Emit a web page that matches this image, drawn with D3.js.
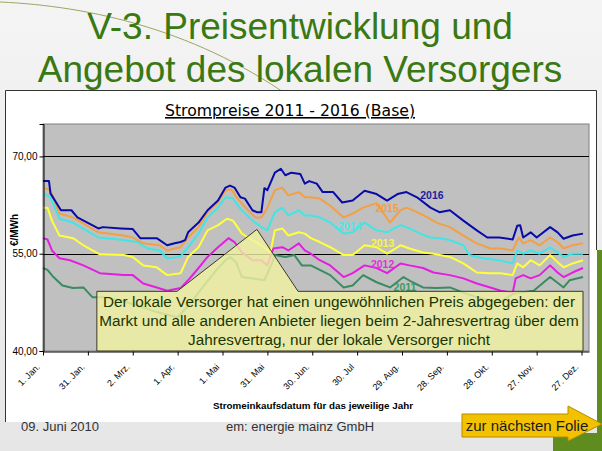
<!DOCTYPE html>
<html><head><meta charset="utf-8">
<script src="https://cdn.jsdelivr.net/npm/d3@7"></script>
<style>html,body{margin:0;padding:0;background:#ececec;overflow:hidden}</style>
</head><body><svg id="c" width="602" height="451"></svg>
<script>
// ---------- DATA ----------
const seriesNames = ["2011", "2012", "2013", "2014", "2015", "2016"];
const seriesColors = ["#3a8a62", "#e41ee0", "#ffff3c", "#40e6e6", "#f2a046", "#0a0aa8"];
const labelColors = ["#3f9a5e", "#e030d8", "#f6f640", "#48e8e8", "#f0a040", "#1c1ca0"];

const s2011 = [[0,52.8],[3,52.5],[7,51.4],[13,50.1],[20,49.7],[27,49.8],[33,48.3],[40,48.3],[52,47.8],[67,46.7],[76,46.0],[90,45.2],[96,46.7],[105,49.3],[116,52.5],[122,54.0],[125,54.5],[129,53.7],[133,51.4],[139,51.2],[148,50.9],[153,53.5],[155,54.8],[162,54.5],[168,54.8],[173,53.2],[179,53.2],[185,52.5],[192,51.7],[201,49.8],[207,50.1],[214,51.7],[223,50.6],[232,49.8],[241,51.4],[247,50.6],[254,49.8],[263,49.7],[272,49.8],[281,49.0],[290,48.3],[299,47.8],[306,47.6],[314,48.8],[319,49.0],[328,49.3],[339,51.4],[348,49.8],[352,50.9],[361,51.4]];
const s2012 = [[0,57.4],[3,57.2],[6,55.5],[11,54.3],[18,54.0],[27,53.2],[38,52.0],[54,51.7],[60,51.7],[67,50.4],[76,49.8],[83,49.3],[92,49.7],[97,50.9],[104,52.8],[110,54.5],[117,56.0],[124,57.4],[128,56.8],[133,55.2],[140,54.0],[146,54.0],[150,53.2],[154,55.8],[160,56.0],[164,55.5],[171,56.6],[175,55.5],[179,55.0],[185,54.0],[192,53.2],[201,51.4],[207,52.0],[215,53.2],[223,52.8],[230,52.0],[239,53.5],[245,53.2],[254,52.8],[261,52.1],[272,51.7],[281,51.2],[290,50.4],[299,49.8],[306,49.3],[314,49.0],[316,51.2],[321,51.7],[326,51.2],[332,51.7],[339,53.2],[344,52.1],[348,51.4],[354,52.1],[361,52.8]];
const s2013 = [[0,62.1],[3,62.1],[6,60.1],[11,57.8],[20,57.4],[27,56.3],[38,54.9],[54,54.8],[60,54.5],[67,53.2],[76,52.9],[83,51.7],[92,52.0],[97,54.5],[104,56.0],[110,58.6],[117,59.4],[123,60.4],[127,60.1],[133,58.1],[140,57.1],[146,56.3],[152,55.2],[155,58.6],[160,58.9],[164,57.8],[171,58.3],[175,58.1],[179,57.4],[185,56.8],[192,56.0],[201,54.8],[207,54.8],[215,56.3],[223,56.0],[230,55.0],[239,56.3],[245,55.8],[254,55.2],[261,55.0],[272,54.5],[281,53.5],[290,52.1],[299,52.0],[306,52.0],[314,51.7],[317,53.5],[321,52.9],[326,54.0],[332,53.2],[339,54.8],[344,53.7],[348,52.9],[354,53.5],[361,54.0]];
const s2014 = [[0,64.3],[5,63.7],[11,60.4],[20,59.8],[37,57.5],[54,57.1],[63,56.8],[70,55.8],[78,55.5],[83,54.3],[88,54.4],[92,54.6],[97,56.0],[104,58.1],[110,60.6],[117,62.1],[122,63.7],[127,63.5],[132,61.9],[140,60.1],[146,59.1],[150,58.6],[155,61.4],[160,62.1],[164,60.9],[171,61.7],[175,60.9],[179,60.9],[185,60.6],[192,59.8],[201,58.1],[207,58.3],[215,59.8],[223,58.6],[230,58.3],[239,59.4],[245,58.9],[252,58.1],[259,57.5],[265,57.4],[272,57.1],[281,56.3],[285,54.8],[294,54.3],[305,54.0],[314,53.5],[317,55.5],[321,55.0],[326,55.5],[332,55.0],[339,56.0],[344,55.2],[348,54.5],[354,55.0],[361,55.0]];
const s2015 = [[0,65.2],[5,64.8],[11,61.2],[20,60.6],[37,58.3],[54,57.8],[60,57.5],[67,56.6],[78,56.3],[83,55.5],[88,55.8],[92,56.0],[97,57.5],[104,59.1],[110,61.4],[117,62.9],[122,64.8],[126,64.9],[130,63.5],[137,61.7],[142,60.6],[146,60.6],[150,62.1],[155,64.8],[160,65.2],[164,64.0],[171,64.5],[175,63.7],[179,63.7],[185,63.5],[192,62.4],[201,60.6],[207,61.2],[214,62.1],[223,62.8],[232,59.8],[239,61.7],[243,62.1],[250,61.4],[257,60.6],[263,59.8],[272,59.1],[281,57.8],[290,56.6],[299,55.8],[306,55.8],[314,55.5],[318,57.5],[321,56.6],[326,57.1],[332,56.3],[339,57.5],[344,56.8],[348,55.8],[354,56.3],[361,56.6]];
const s2016 = [[0,66.2],[4,66.2],[5,64.3],[12,61.7],[19,61.7],[23,60.6],[37,58.9],[40,59.1],[52,58.9],[60,58.8],[65,57.4],[76,57.4],[83,56.3],[88,56.6],[92,56.8],[95,57.1],[97,58.3],[104,59.8],[110,61.7],[117,63.2],[122,65.2],[125,65.5],[128,65.2],[132,63.7],[135,63.5],[140,61.7],[143,61.4],[146,61.4],[148,65.1],[150,64.8],[155,67.5],[159,68.1],[162,67.1],[166,67.5],[172,67.3],[175,65.8],[178,66.2],[183,65.8],[187,64.5],[194,64.5],[200,62.9],[207,63.2],[215,64.7],[223,64.2],[230,63.2],[237,64.2],[243,64.5],[250,63.7],[259,62.1],[265,61.4],[272,61.7],[281,60.1],[290,58.6],[297,57.5],[305,57.5],[314,57.2],[317,59.3],[319,59.4],[321,57.5],[326,58.3],[330,57.5],[339,59.1],[344,58.3],[348,57.3],[354,57.8],[361,58.1]];
const seriesData = [s2011, s2012, s2013, s2014, s2015, s2016];

// label anchor [day, value] per series
const labelPos = [[242,49.8],[227,53.4],[227,56.6],[205,59.2],[230,62.0],[260,64.0]];

const tickDays = [0,30,60,90,120,150,180,210,240,270,300,330,360];
const tickLabels = ["1. Jan.","31. Jan.","2. Mrz.","1. Apr.","1. Mai","31. Mai","30. Jun.","30. Jul","29. Aug.","28. Sep.","28. Okt.","27. Nov.","27. Dez."];
const yTicks = [40, 55, 70];
const yGrid = [55, 70];

const slideTitle = ["V-3. Preisentwicklung und", "Angebot des lokalen Versorgers"];
const chartTitle = "Strompreise 2011 - 2016 (Base)";
const yTitle = "€/MWh";
const xTitle = "Stromeinkaufsdatum für das jeweilige Jahr";
const calloutLines = ["Der lokale Versorger hat einen ungewöhnlichen Preis abgegeben: der",
  "Markt und alle anderen Anbieter liegen beim 2-Jahresvertrag über dem",
  "Jahresvertrag, nur der lokale Versorger nicht"];
// callout geometry in data units: box [day0, day1, valueTop], notch [dayL, apexDay, apexValue, dayR]
const calloutBox = [36, 361, 49.2];
const calloutNotch = [89.6, 143, 58.75, 170.5];
const footerDate = "09. Juni 2010";
const footerCompany = "em: energie mainz GmbH";
const nextLabel = "zur nächsten Folie";

// ---------- DRAW ----------
const svg = d3.select("#c");
const defs = svg.append("defs");
const bg = defs.append("linearGradient").attr("id","bg").attr("x1",0).attr("y1",0).attr("x2",0).attr("y2",1);
bg.append("stop").attr("offset","0%").attr("stop-color","#f4f4f4");
bg.append("stop").attr("offset","100%").attr("stop-color","#e6e6e6");
svg.append("rect").attr("width",602).attr("height",451).attr("fill","url(#bg)");

// decorative thin curve
svg.append("path").attr("d","M0,2 C90,6 200,30 300,104").attr("fill","none")
  .attr("stroke","#9aa860").attr("stroke-width",1);

// green right bar and corner block
svg.append("rect").attr("x",597).attr("y",250).attr("width",5).attr("height",201).attr("fill","#5e8c1e");
svg.append("rect").attr("x",553).attr("y",433).attr("width",49).attr("height",18).attr("fill","#5e8c1e");

// slide title
svg.selectAll("text.st").data(slideTitle).join("text").attr("class","st")
  .attr("x",300).attr("y",(d,i)=>39+i*43).attr("text-anchor","middle")
  .attr("font-family","Liberation Sans, Arial, sans-serif").attr("font-size",37)
  .attr("fill","#3a7812").text(d=>d);

// panel
svg.append("rect").attr("x",5).attr("y",90).attr("width",592).attr("height",332).attr("fill","#ffffff");
svg.append("path").attr("d","M5.5,422 V90.5 H596.5 V250").attr("fill","none").attr("stroke","#333").attr("stroke-width",1);

// chart title
svg.append("text").attr("x",290).attr("y",116).attr("text-anchor","middle")
  .attr("font-family","DejaVu Sans, Tahoma, sans-serif").attr("font-size",16)
  .attr("textLength",250).attr("lengthAdjust","spacingAndGlyphs")
  .attr("text-decoration","underline").attr("fill","#000").text(chartTitle);

const x = d3.scaleLinear().domain([0,365]).range([43,589]);
const y = d3.scaleLinear().domain([40,75]).range([351,124]);

// plot area
svg.append("rect").attr("x",x(0)).attr("y",y(75)).attr("width",x(365)-x(0)).attr("height",y(40)-y(75))
  .attr("fill","#c0c0c0").attr("stroke","#808080").attr("stroke-width",1);

// gridlines
svg.append("g").selectAll("line").data(yGrid).join("line")
  .attr("x1",x(0)).attr("x2",x(365)).attr("y1",d=>Math.round(y(d))+0.5).attr("y2",d=>Math.round(y(d))+0.5)
  .attr("stroke","#000").attr("stroke-width",1);

// series
const line = d3.line().x(d=>x(d[0])).y(d=>y(d[1]));
svg.append("g").selectAll("path").data(seriesData).join("path")
  .attr("d",line).attr("fill","none").attr("stroke",(d,i)=>seriesColors[i])
  .attr("stroke-width",2).attr("stroke-linejoin","round");

// series labels
svg.append("g").selectAll("text").data(seriesNames).join("text")
  .attr("x",(d,i)=>x(labelPos[i][0])).attr("y",(d,i)=>y(labelPos[i][1])).attr("dy","0.35em")
  .attr("text-anchor","middle").attr("font-family","Liberation Sans, Arial, sans-serif")
  .attr("font-weight","bold").attr("font-size",10.5).attr("fill",(d,i)=>labelColors[i]).text(d=>d);

// axes
const yAxis = d3.axisLeft(y).tickValues(yTicks).tickSize(4).tickFormat(d=>d3.format(".2f")(d).replace(".",","));
const gy = svg.append("g").attr("transform",`translate(${x(0)+0.5},0)`).call(yAxis);
gy.select(".domain").attr("stroke","#000");
gy.selectAll("text").attr("font-family","Liberation Sans, Arial, sans-serif").attr("font-size",10).attr("fill","#000").attr("x",-6);

const xAxis = d3.axisBottom(x).tickValues(tickDays).tickSize(4).tickSizeOuter(0).tickFormat((d,i)=>tickLabels[i]);
const gx = svg.append("g").attr("transform",`translate(0,${y(40)+0.5})`).call(xAxis);
gx.select(".domain").attr("stroke","#000");
gx.selectAll("text").attr("font-family","Liberation Sans, Arial, sans-serif").attr("font-size",9).attr("fill","#000")
  .attr("text-anchor","end").attr("y",0).attr("dy",0)
  .attr("transform","translate(-3,16) rotate(-45)");

// axis titles
svg.append("text").attr("transform","translate(18,230) rotate(-90)").attr("text-anchor","middle")
  .attr("font-family","Liberation Sans, Arial, sans-serif").attr("font-weight","bold").attr("font-size",10)
  .attr("fill","#000").text(yTitle);
svg.append("text").attr("x",313).attr("y",409).attr("text-anchor","middle")
  .attr("font-family","Liberation Sans, Arial, sans-serif").attr("font-weight","bold").attr("font-size",9.5)
  .attr("textLength",200).attr("lengthAdjust","spacingAndGlyphs").attr("fill","#000").text(xTitle);

// callout
const cb = calloutBox, cn = calloutNotch;
const cpath = d3.path();
cpath.moveTo(x(cb[0]), y(cb[2]));
cpath.lineTo(x(cn[0]), y(cb[2]));
cpath.lineTo(x(cn[1]), y(cn[2]));
cpath.lineTo(x(cn[3]), y(cb[2]));
cpath.lineTo(x(cb[1]), y(cb[2]));
cpath.lineTo(x(cb[1]), y(40));
cpath.lineTo(x(cb[0]), y(40));
cpath.closePath();
svg.append("path").attr("d",cpath.toString()).attr("fill","#f2f2a0").attr("fill-opacity",0.8)
  .attr("stroke","#3a3a2a").attr("stroke-width",1);
svg.selectAll("text.co").data(calloutLines).join("text").attr("class","co")
  .attr("x",339).attr("y",(d,i)=>307+i*19).attr("text-anchor","middle")
  .attr("font-family","Liberation Sans, Arial, sans-serif").attr("font-size",15.3)
  .attr("fill","#1a3600").text(d=>d);

// footer
svg.append("text").attr("x",21).attr("y",431).attr("font-family","Liberation Sans, Arial, sans-serif")
  .attr("font-size",13).attr("fill","#333").text(footerDate);
svg.append("text").attr("x",300).attr("y",431).attr("text-anchor","middle").attr("font-family","Liberation Sans, Arial, sans-serif")
  .attr("font-size",13).attr("fill","#333").text(footerCompany);

// next arrow
svg.append("path").attr("d","M462,414 H568 V406 L602,424 L568,441 V437 H462 Z")
  .attr("fill","#f2c200").attr("stroke","#b88a00").attr("stroke-width",1);
svg.append("text").attr("x",527).attr("y",431).attr("text-anchor","middle").attr("font-family","Liberation Sans, Arial, sans-serif")
  .attr("font-size",15).attr("fill","#1a1a1a").text(nextLabel);
</script>
</body></html>
